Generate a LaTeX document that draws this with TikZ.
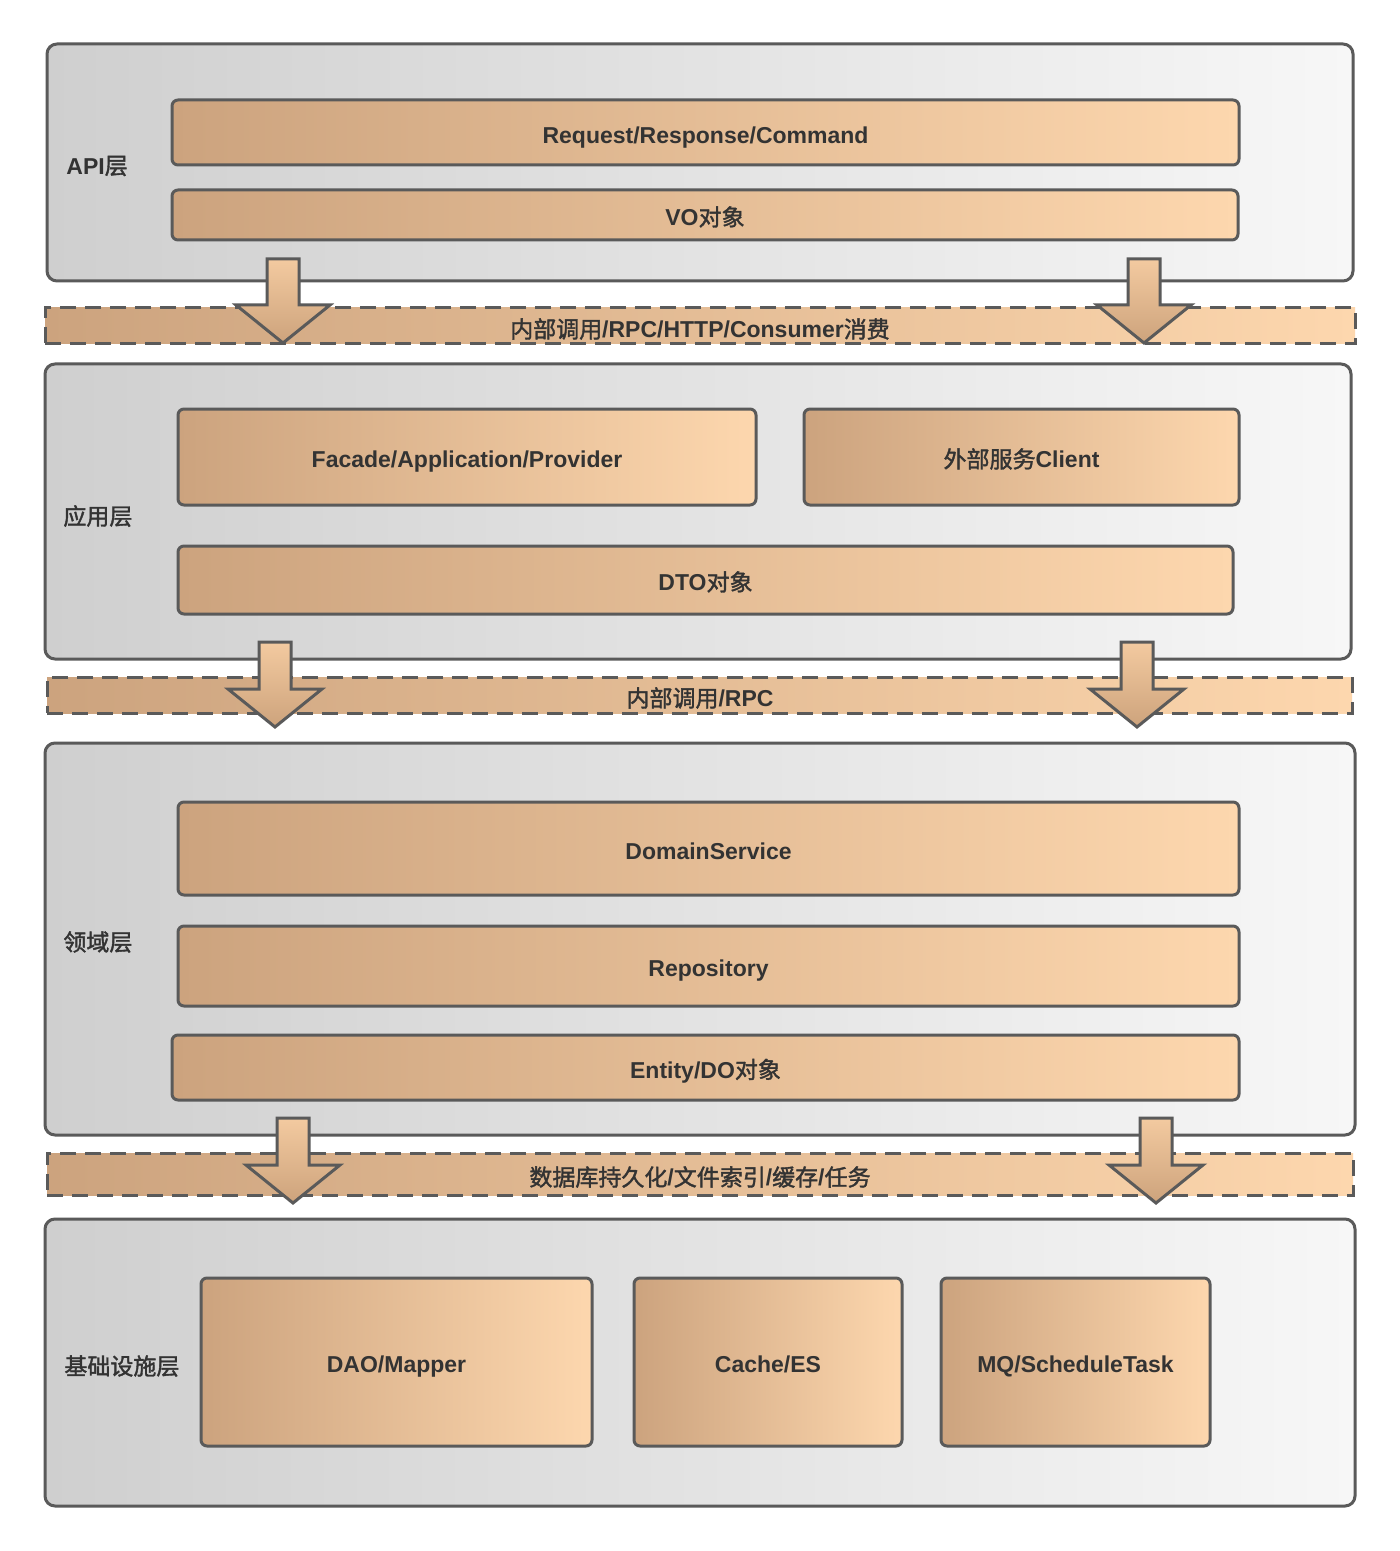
\documentclass[tikz,border=0pt]{standalone}
\usepackage{fontspec}
\setmainfont{Liberation Sans}
\newfontfamily\cjk{Noto Sans CJK SC}[BoldFont={*}, BoldFeatures={FakeBold=1.6}]
\newcommand\zh[1]{{\cjk #1}}
\usetikzlibrary{positioning}

\definecolor{edgegray}{HTML}{5A5A5A}
\definecolor{txtgray}{HTML}{333333}
\definecolor{tanleft}{HTML}{CCA37E}
\definecolor{tanright}{HTML}{FDD7AE}
\definecolor{greyleft}{HTML}{CFCFCF}
\definecolor{greyright}{HTML}{F7F7F7}
\definecolor{arrowtop}{HTML}{F3CAA0}
\definecolor{arrowbot}{HTML}{CDA37C}

% block arrow pointing down: x, top y, tip y
\newcommand\downblock[3]{%
  \draw[blockarrow] (#1-16,#2) -- (#1+16,#2) -- (#1+16,#3-38) -- (#1+47,#3-38)
    -- (#1,#3) -- (#1-47,#3-38) -- (#1-16,#3-38) -- cycle;}

\begin{document}
\begin{tikzpicture}[
    x=0.5pt, y=-0.5pt,
    font=\bfseries\fontsize{11.5}{13}\selectfont,
    layer/.style={draw=edgegray, line width=1.5pt, rounded corners=5pt, left color=greyleft, right color=greyright, inner sep=0pt},
    part/.style={draw=edgegray, line width=1.5pt, rounded corners=3pt, left color=tanleft, right color=tanright, text=txtgray, align=center, inner sep=0pt, text height=10.7pt, text depth=0pt},
    band/.style={draw=edgegray, line width=1.5pt, dash pattern=on 8pt off 4.5pt, left color=tanleft, right color=tanright, inner sep=0pt},
    layername/.style={anchor=west, text=txtgray, inner sep=0pt, text depth=0pt},
    bandtext/.style={text=txtgray, inner sep=0pt, text depth=0pt},
    blockarrow/.style={draw=edgegray, line width=1.5pt, line join=miter, top color=arrowtop, bottom color=arrowbot}
]
\fill[white] (0,0) rectangle (1400,1551);
\useasboundingbox (0,0) rectangle (1400,1551);

% layers
\node[layer, minimum width=653pt, minimum height=118.5pt] (api) at (700,162.5) {};
\node[layer, minimum width=653pt, minimum height=147.5pt] (app) at (698,511.5) {};
\node[layer, minimum width=655pt, minimum height=196pt] (domain) at (700,939) {};
\node[layer, minimum width=655pt, minimum height=143.5pt] (infra) at (700,1362.5) {};

\node[layername] (apiname) at (66,165) {API\zh{层}};
\node[layername] (appname) at (63,515) {\zh{应用层}};
\node[layername] (domainname) at (63,941) {\zh{领域层}};
\node[layername] (infraname) at (64,1365) {\zh{基础设施层}};

% api layer
\node[part, minimum width=533.5pt, minimum height=32.5pt] (request) at (705.5,132.5) {Request/Response/Command};
\node[part, minimum width=533pt, minimum height=25pt] (vo) at (705,215) {VO\zh{对象}};

% application layer
\node[part, minimum width=289pt, minimum height=48pt] (facade) at (467,457) {Facade/Application/Provider};
\node[part, minimum width=217.5pt, minimum height=48pt] (client) at (1021.5,457) {\zh{外部服务}Client};
\node[part, minimum width=527.5pt, minimum height=34pt] (dto) at (705.5,580) {DTO\zh{对象}};

% domain layer
\node[part, minimum width=530.5pt, minimum height=46.5pt] (service) at (708.5,848.5) {DomainService};
\node[part, minimum width=530.5pt, minimum height=40pt] (repo) at (708.5,966) {Repository};
\node[part, minimum width=533.5pt, minimum height=32.5pt] (entity) at (705.5,1067.5) {Entity/DO\zh{对象}};

% infrastructure layer
\node[part, minimum width=195.5pt, minimum height=84pt] (dao) at (396.5,1362) {DAO/Mapper};
\node[part, minimum width=134pt, minimum height=84pt] (cache) at (768,1362) {Cache/ES};
\node[part, minimum width=134.5pt, minimum height=84pt] (mq) at (1075.5,1362) {MQ/ScheduleTask};

% call bands
\node[band, minimum width=655pt, minimum height=18pt] (band1) at (700,326) {};
\node[band, minimum width=652.5pt, minimum height=18pt] (band2) at (699.5,695) {};
\node[band, minimum width=653pt, minimum height=21pt] (band3) at (700,1174) {};

\downblock{283}{259}{343}
\downblock{1144}{259}{343}
\downblock{275}{642}{727}
\downblock{1137}{642}{727}
\downblock{293}{1118}{1203}
\downblock{1156}{1118}{1203}

\node[bandtext] (call1) at (700,328) {\zh{内部调用}/RPC/HTTP/Consumer\zh{消费}};
\node[bandtext] (call2) at (700,697) {\zh{内部调用}/RPC};
\node[bandtext] (call3) at (700,1176) {\zh{数据库持久化}/\zh{文件索引}/\zh{缓存}/\zh{任务}};
\end{tikzpicture}
\end{document}
